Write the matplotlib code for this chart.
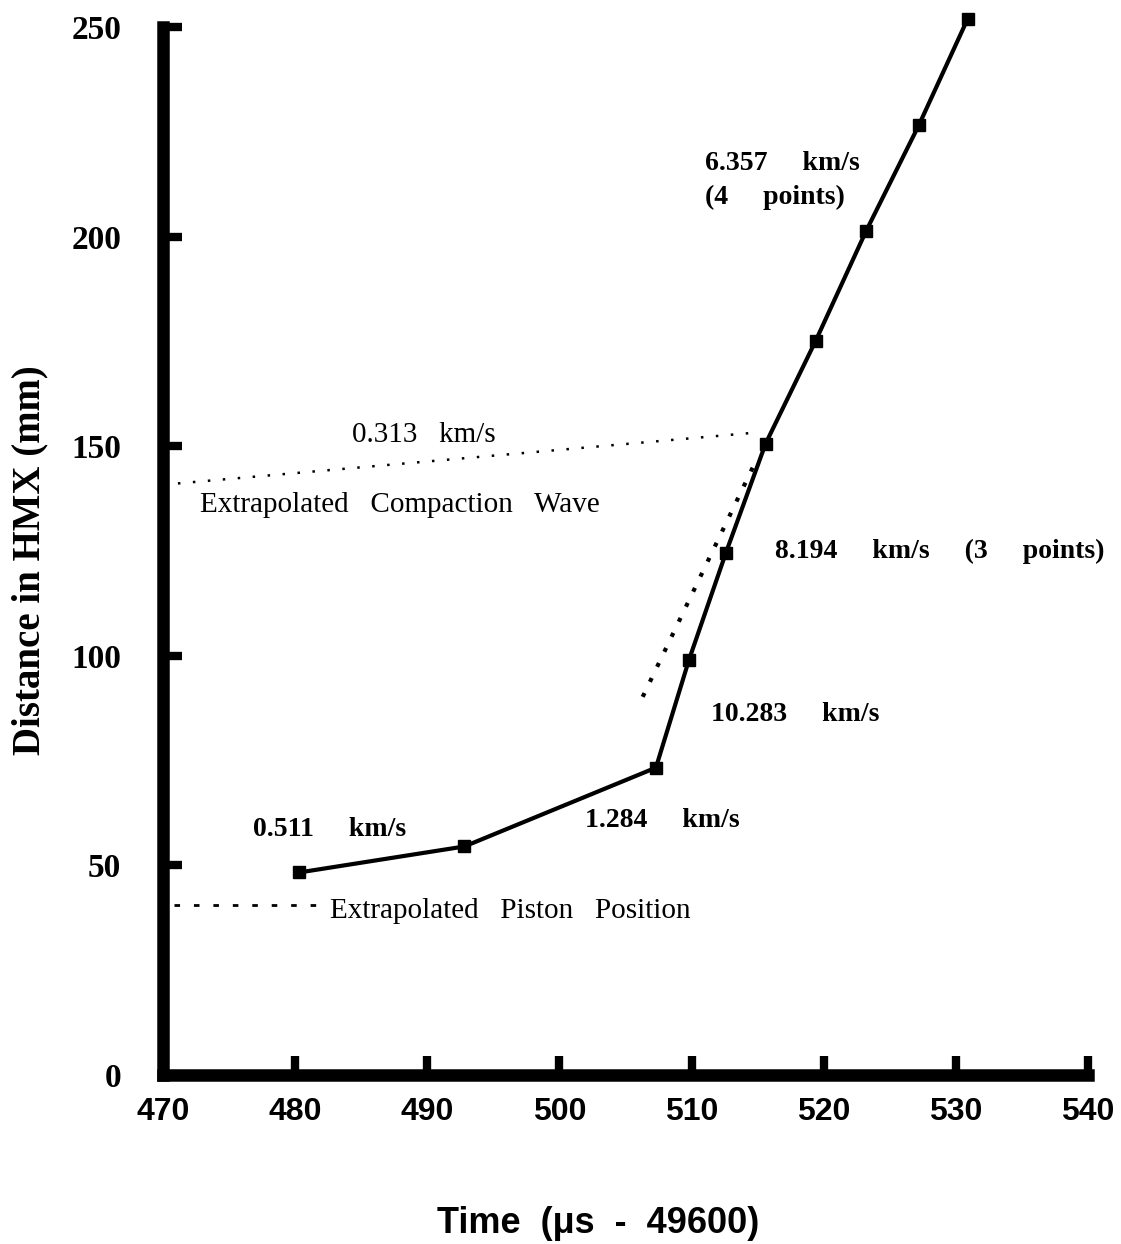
import matplotlib
matplotlib.use('Agg')
import matplotlib.pyplot as plt

# measured positions (time in us - 49600, distance in mm)
time_us = [480.3, 492.8, 507.3, 509.8, 512.6, 515.6, 519.4, 523.2, 527.2, 530.9]
dist_mm = [48.3, 54.5, 73.3, 99.0, 124.6, 150.6, 175.2, 201.3, 226.6, 252.0]

# extrapolated fits
compaction_t = [470.0, 514.7]
compaction_d = [140.8, 153.2]
fit3_t = [506.3, 514.9]
fit3_d = [90.2, 146.7]
piston_t = [470.8, 481.7]
piston_d = [40.6, 40.6]

xticks = [470, 480, 490, 500, 510, 520, 530, 540]
yticks = [0, 50, 100, 150, 200, 250]

serif = ['Liberation Serif', 'DejaVu Serif']
sans = ['Liberation Sans', 'DejaVu Sans']

fig = plt.figure(figsize=(11.21, 12.44), dpi=100)
ax = fig.add_axes([0.1454, 0.1359, 0.9706 - 0.1454, 0.9783 - 0.1359])

ax.plot(time_us, dist_mm, color='black', lw=3, marker='s', ms=9, clip_on=False)
ax.plot(compaction_t, compaction_d, color='black', lw=1.8, ls=(0, (1, 5)))
ax.plot(fit3_t, fit3_d, color='black', lw=3, ls=(0, (1, 3)))
ax.plot(piston_t, piston_d, color='black', lw=2, ls=(0, (2, 5)))

ax.set_xlim(470, 540)
ax.set_ylim(0, 250)
ax.set_xticks(xticks)
ax.set_yticks(yticks)

for s in ['top', 'right']:
    ax.spines[s].set_visible(False)
for s in ['left', 'bottom']:
    ax.spines[s].set_linewidth(9)
    ax.spines[s].set_capstyle('projecting')

ax.tick_params(axis='both', direction='in', length=14, width=6, color='black')
ax.tick_params(axis='x', pad=16)
ax.tick_params(axis='y', pad=30)
for lab in ax.get_yticklabels():
    lab.set_fontfamily(serif)
    lab.set_fontweight('bold')
    lab.set_fontsize(24)
for lab in ax.get_xticklabels():
    lab.set_fontfamily(sans)
    lab.set_fontweight('bold')
    lab.set_fontsize(23)

ax.set_xlabel('Time  (\u03bcs  -  49600)', fontsize=26, fontweight='bold',
              family=sans)
ax.xaxis.set_label_coords(0.47, -0.125)
ax.set_ylabel('Distance in HMX (mm)', fontsize=28, fontweight='bold',
              family=serif)
ax.yaxis.set_label_coords(-0.124, 0.491)

bold = dict(fontsize=20, fontweight='bold', family=serif, va='center', ha='left')
reg = dict(fontsize=21, family=serif, va='center', ha='left')

ax.text(511.0, 213.3, '6.357     km/s\n(4     points)', linespacing=1.45, **bold)
ax.text(484.3, 152.6, '0.313   km/s', **reg)
ax.text(472.8, 136.0, 'Extrapolated   Compaction   Wave', **reg)
ax.text(516.3, 124.8, '8.194     km/s     (3     points)', **bold)
ax.text(511.5, 86.0, '10.283     km/s', **bold)
ax.text(501.9, 60.6, '1.284     km/s', **bold)
ax.text(476.8, 58.6, '0.511     km/s', **bold)
ax.text(482.6, 39.2, 'Extrapolated   Piston   Position', **reg)

fig.savefig('out.png', dpi=100)
